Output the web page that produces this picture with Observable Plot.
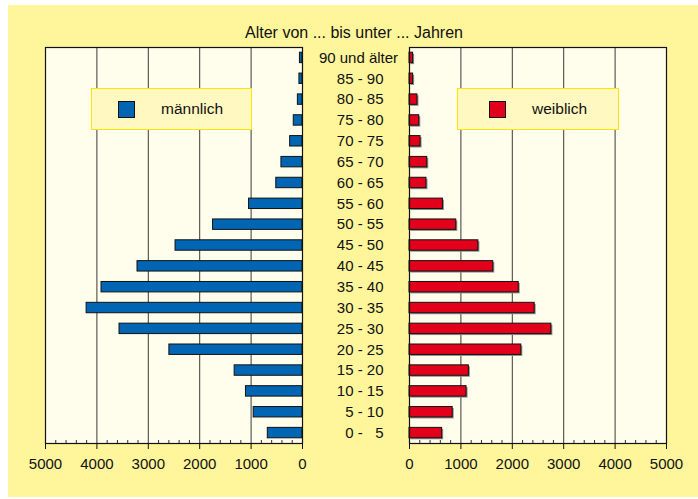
<!DOCTYPE html>
<html>
<head>
<meta charset="utf-8">
<script src="https://cdn.jsdelivr.net/npm/d3@7"></script>
<script src="https://cdn.jsdelivr.net/npm/@observablehq/plot@0.6"></script>
<style>
  html, body { margin: 0; padding: 0; background: #ffffff; }
  #root { position: relative; width: 698px; height: 499px; font-family: "Liberation Sans", Arial, sans-serif; color: #111; }
  #bg { position: absolute; left: 8px; top: 5px; width: 690px; height: 492px; background: #FFF59B; }
  .layer { position: absolute; left: 0; top: 0; }
  #title { position: absolute; left: 0; top: 25px; width: 708px; text-align: center; font-size: 16px; line-height: 16px; }
  .legend { position: absolute; top: 88px; height: 40px; background: #FFF8C0; border: 1.5px solid #FFE500; box-sizing: content-box; }
  .legend .sw { position: absolute; top: 12px; width: 15px; height: 15px; border: 1px solid #111; }
  .legend .lab { position: absolute; top: 11px; font-size: 15.5px; line-height: 17px; }
</style>
</head>
<body>
<div id="root">
  <div id="bg"></div>
  <div id="title">Alter von ... bis unter ... Jahren</div>
  <div id="left" class="layer"></div>
  <div id="right" class="layer"></div>
  <div class="legend" style="left:91px; width:159px;">
    <div class="sw" style="left:26px; background:#0066B3;"></div>
    <div class="lab" style="left:69px;">männlich</div>
  </div>
  <div class="legend" style="left:457px; width:160px;">
    <div class="sw" style="left:31px; background:#E2001A;"></div>
    <div class="lab" style="left:74px;">weiblich</div>
  </div>
</div>
<script>
const ages = ["90 und älter", "85 - 90", "80 - 85", "75 - 80", "70 - 75", "65 - 70", "60 - 65",
  "55 - 60", "50 - 55", "45 - 50", "40 - 45", "35 - 40", "30 - 35", "25 - 30", "20 - 25",
  "15 - 20", "10 - 15", "5 - 10", "0 -\u00a0\u00a0\u00a05"];
const male = [50, 60, 90, 170, 240, 410, 510, 1040, 1740, 2470, 3210, 3910, 4200, 3560, 2590, 1320, 1100, 950, 675];
const female = [70, 70, 155, 190, 215, 345, 330, 650, 910, 1340, 1630, 2125, 2435, 2760, 2175, 1155, 1110, 840, 635];
const xTicks = [0, 1000, 2000, 3000, 4000, 5000];
const gridTicks = [1000, 2000, 3000, 4000];
const minorTicks = d3.range(200, 5000, 200).filter(v => v % 1000 !== 0);

const rows = ages.map((a, i) => ({age: a, m: male[i], f: female[i]}));

const W = 698, H = 499, plotTop = 47, plotBottom = 443;
const font = "'Liberation Sans', Arial, sans-serif";

function panel({left, right, reverse, key, fill, withLabels}) {
  const marks = [
    Plot.frame({fill: "#FFFDEC"}),
    Plot.ruleX(gridTicks, {stroke: "#3a3a3a", strokeWidth: 1}),
  ];
  if (!reverse) marks.push(Plot.barX(rows, {y: "age", x: key, fill: "#8a8a8a", dx: 1.5, dy: 1.5}));
  marks.push(
    Plot.barX(rows, {y: "age", x: key, fill, stroke: "#111", strokeWidth: 1}),
    Plot.ruleX(minorTicks, {stroke: "#333", insetTop: (plotBottom - plotTop) - 3}),
    Plot.frame({stroke: "#111", strokeWidth: 1.2}),
    Plot.axisX(xTicks, {tickSize: 6, tickPadding: 9, tickFormat: d => String(d), fontSize: 15, label: null, stroke: "#111"})
  );
  if (withLabels) {
    marks.push(
      Plot.text(rows.slice(1), {y: "age", text: "age", frameAnchor: "right", dx: 81, textAnchor: "end", fontSize: 15, fill: "#111"}),
      Plot.text(rows.slice(0, 1), {y: "age", text: "age", frameAnchor: "right", dx: 56, textAnchor: "middle", fontSize: 15, fill: "#111"})
    );
  }
  return Plot.plot({
    width: W, height: H,
    marginLeft: left, marginRight: W - right, marginTop: plotTop, marginBottom: H - plotBottom,
    style: {background: "transparent", fontFamily: font, fontSize: "15px", overflow: "visible", color: "#111"},
    x: {domain: [0, 5000], reverse, axis: null},
    y: {domain: ages, paddingInner: 0.5, paddingOuter: 0.25, round: false, axis: null},
    marks
  });
}

document.getElementById("left").append(panel({left: 45, right: 302, reverse: true, key: "m", fill: "#0066B3", withLabels: true}));
document.getElementById("right").append(panel({left: 409, right: 666, reverse: false, key: "f", fill: "#E2001A", withLabels: false}));
</script>
</body>
</html>
